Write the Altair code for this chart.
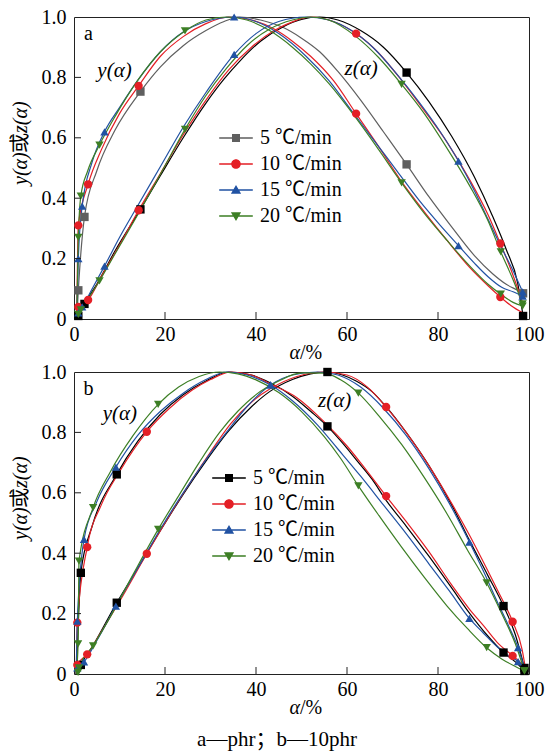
import altair as alt
import pandas as pd

SERIES = ["5 ℃/min", "10 ℃/min", "15 ℃/min", "20 ℃/min"]

RED, BLUE, GREEN, GREY, BLACK = "#e41f26", "#2152a3", "#3d7f25", "#5f5f5f", "#000000"
SERIF = "Liberation Serif"
CJK = "Liberation Serif, Noto Sans CJK SC"

# ---------------- panel a (phr) ----------------
A5_ALPHA = [0.6, 0.95, 2.3, 5, 9, 14.6, 19, 24, 29, 33, 36.5, 41, 46, 50, 54, 58, 63, 68, 73.1, 78, 83, 88, 92, 95, 97.5, 98.7]
A5_Y = [0.0, 0.095, 0.338, 0.49, 0.625, 0.753, 0.835, 0.905, 0.955, 0.985, 1.0, 0.99, 0.965, 0.93, 0.885, 0.82, 0.725, 0.62, 0.512, 0.405, 0.305, 0.21, 0.15, 0.115, 0.095, 0.085]
A5_Z = [0.0, 0.01, 0.05, 0.115, 0.225, 0.363, 0.475, 0.6, 0.715, 0.795, 0.855, 0.92, 0.968, 0.992, 1.0, 0.99, 0.955, 0.9, 0.816, 0.72, 0.605, 0.47, 0.34, 0.23, 0.12, 0.01]
A5_MARKS = [0.95, 2.3, 14.6, 73.1, 98.7]

A10_ALPHA = [0.6, 0.95, 3.1, 6, 10, 14.2, 19, 24, 29, 34, 39, 44, 48, 52, 57, 62, 67, 72, 77, 82, 87, 91, 93.7, 96, 98.7]
A10_Y = [0.0, 0.31, 0.446, 0.56, 0.68, 0.772, 0.87, 0.935, 0.978, 1.0, 0.99, 0.96, 0.92, 0.87, 0.79, 0.68, 0.57, 0.455, 0.355, 0.26, 0.17, 0.11, 0.073, 0.045, 0.02]
A10_Z = [0.0, 0.04, 0.063, 0.14, 0.245, 0.36, 0.482, 0.61, 0.725, 0.825, 0.9, 0.955, 0.984, 1.0, 0.985, 0.945, 0.88, 0.79, 0.69, 0.585, 0.46, 0.345, 0.25, 0.165, 0.05]
A10_MARKS = [0.95, 3.1, 14.2, 62, 93.7]

A15_ALPHA = [0.6, 0.95, 1.8, 4, 6.7, 10, 14, 19, 24, 29, 35.2, 40, 45, 51, 56, 61, 66, 71, 76, 80.5, 84.5, 88, 91, 94, 96.5, 98.6]
A15_Y = [0.0, 0.2, 0.374, 0.52, 0.62, 0.70, 0.79, 0.885, 0.95, 0.985, 1.0, 0.985, 0.945, 0.87, 0.79, 0.69, 0.59, 0.49, 0.39, 0.31, 0.243, 0.185, 0.14, 0.105, 0.09, 0.076]
A15_Z = [0.0, 0.02, 0.04, 0.10, 0.175, 0.27, 0.375, 0.505, 0.635, 0.75, 0.876, 0.945, 0.985, 1.0, 0.99, 0.955, 0.895, 0.81, 0.715, 0.62, 0.523, 0.425, 0.33, 0.235, 0.16, 0.09]
A15_MARKS = [0.95, 1.8, 6.7, 35.2, 84.5, 98.6]

A20_ALPHA = [0.6, 0.95, 1.5, 3, 5.6, 9, 14, 19, 24.4, 29, 33.5, 38, 43, 48, 52, 56, 62, 67, 72, 77, 82, 87, 91, 93.8, 96.5, 98.6]
A20_Y = [0.0, 0.27, 0.407, 0.49, 0.576, 0.67, 0.79, 0.885, 0.954, 0.99, 1.0, 0.99, 0.955, 0.9, 0.845, 0.78, 0.665, 0.56, 0.451, 0.35, 0.26, 0.175, 0.115, 0.082, 0.055, 0.043]
A20_Z = [0.0, 0.015, 0.03, 0.065, 0.126, 0.215, 0.345, 0.48, 0.628, 0.74, 0.83, 0.905, 0.96, 0.99, 1.0, 0.99, 0.935, 0.865, 0.777, 0.68, 0.565, 0.44, 0.325, 0.222, 0.13, 0.05]
A20_MARKS = [0.95, 1.5, 5.6, 24.4, 72, 93.8, 98.6]

# ---------------- panel b (10phr) ----------------
B5_ALPHA = [0.5, 0.9, 1.5, 4, 9.4, 14, 19, 24, 29, 34, 39, 43, 48, 52, 55.7, 59, 62, 65.5, 68.6, 73, 78, 83, 87, 91, 94.4, 97, 99]
B5_Y = [0.0, 0.15, 0.335, 0.49, 0.661, 0.77, 0.86, 0.925, 0.97, 1.0, 0.99, 0.965, 0.92, 0.87, 0.82, 0.765, 0.71, 0.645, 0.575, 0.49, 0.39, 0.285, 0.2, 0.125, 0.071, 0.04, 0.01]
B5_Z = [0.0, 0.01, 0.03, 0.09, 0.236, 0.35, 0.475, 0.595, 0.705, 0.805, 0.885, 0.935, 0.975, 0.994, 1.0, 0.99, 0.97, 0.935, 0.885, 0.8, 0.69, 0.56, 0.44, 0.325, 0.225, 0.13, 0.02]
B5_MARKS = [1.5, 9.4, 55.7, 94.4, 99]

B10_ALPHA = [0.5, 0.73, 2.9, 6, 10, 16, 21, 26, 30, 34.5, 39, 43.2, 49, 55, 60, 64.5, 68.6, 73, 78, 83, 86.9, 90, 93, 96.4, 98.5, 99.2]
B10_Y = [0.0, 0.17, 0.42, 0.56, 0.67, 0.802, 0.88, 0.94, 0.975, 1.0, 0.99, 0.96, 0.915, 0.835, 0.755, 0.67, 0.589, 0.505, 0.405, 0.295, 0.215, 0.16, 0.105, 0.06, 0.03, 0.01]
B10_Z = [0.0, 0.03, 0.065, 0.14, 0.24, 0.398, 0.525, 0.645, 0.735, 0.83, 0.9, 0.945, 0.985, 1.0, 0.99, 0.95, 0.884, 0.8, 0.69, 0.565, 0.46, 0.37, 0.28, 0.173, 0.08, 0.02]
B10_MARKS = [0.73, 2.9, 16, 68.6, 96.4]

B15_ALPHA = [0.5, 0.73, 2.2, 5, 9.2, 14, 19, 24, 29, 33.5, 38, 43.2, 48, 53.5, 58, 63, 68, 73, 78, 82.5, 86.9, 90, 93, 95.5, 97.6, 99]
B15_Y = [0.0, 0.175, 0.446, 0.57, 0.685, 0.79, 0.87, 0.93, 0.975, 1.0, 0.99, 0.957, 0.905, 0.825, 0.745, 0.655, 0.56, 0.465, 0.365, 0.275, 0.184, 0.135, 0.09, 0.06, 0.041, 0.015]
B15_Z = [0.0, 0.02, 0.04, 0.11, 0.225, 0.35, 0.48, 0.6, 0.71, 0.8, 0.885, 0.957, 0.99, 1.0, 0.99, 0.95, 0.88, 0.79, 0.68, 0.565, 0.437, 0.34, 0.24, 0.16, 0.087, 0.02]
B15_MARKS = [0.73, 2.2, 9.2, 43.2, 86.9, 97.6]

B20_ALPHA = [0.5, 0.9, 1.1, 4.2, 8, 13, 18.5, 23, 27.5, 32, 36, 40, 45, 50, 55, 58.5, 62.5, 67, 72, 77, 82, 86.5, 90.7, 94, 97, 99]
B20_Y = [0.0, 0.10, 0.374, 0.551, 0.67, 0.79, 0.893, 0.95, 0.985, 1.0, 0.994, 0.974, 0.932, 0.869, 0.786, 0.716, 0.623, 0.525, 0.42, 0.32, 0.225, 0.15, 0.087, 0.05, 0.025, 0.01]
B20_Z = [0.0, 0.005, 0.02, 0.093, 0.19, 0.33, 0.479, 0.59, 0.7, 0.8, 0.87, 0.925, 0.97, 0.997, 0.996, 0.975, 0.93, 0.855, 0.76, 0.65, 0.53, 0.41, 0.302, 0.2, 0.1, 0.01]
B20_MARKS = [0.9, 1.1, 4.2, 18.5, 62.5, 90.7, 99]

X_TICKS = [20, 40, 60, 80]
Y_TICKS = [0.2, 0.4, 0.6, 0.8]

W, H = 455, 302
FS = 20

# legend symbols: a short line with the series marker on it
BAR = "M-2.1,-0.085H2.1V0.085H-2.1Z"
LEGEND_PATHS = [
    BAR + "M-0.5,-0.5H0.5V0.5H-0.5Z",
    BAR + "M-0.6,0A0.6,0.6,0,1,1,0.6,0A0.6,0.6,0,1,1,-0.6,0Z",
    BAR + "M0,-0.62L0.64,0.46L-0.64,0.46Z",
    BAR + "M0,0.62L-0.64,-0.46L0.64,-0.46Z",
]

X_AX = alt.Axis(values=[0, 20, 40, 60, 80, 100], title=None, ticks=False, domain=False, grid=False,
                labelFont=SERIF, labelFontSize=FS, labelColor="#000", labelPadding=5, labelFlush=False)
Y_AX = alt.Axis(values=[0, 0.2, 0.4, 0.6, 0.8, 1.0], title=None, ticks=False, domain=False, grid=False,
                labelFont=SERIF, labelFontSize=FS, labelColor="#000", labelPadding=8, labelFlush=False,
                labelExpr="datum.value == 0 ? '0' : format(datum.value, '.1f')")
X_SC = alt.Scale(domain=[0, 100], nice=False)
Y_SC = alt.Scale(domain=[0, 1], nice=False)

ONE = pd.DataFrame({"k": [0]})


def build_rows(curves):
    rows = []
    for name, alpha, yv, zv, marks, ycol, zcol, shape in curves:
        for a, y, z in zip(alpha, yv, zv):
            m = a in marks
            rows.append(dict(alpha=a, val=y, curve=name + " y", color=ycol, shape=shape, mark=m))
            rows.append(dict(alpha=a, val=z, curve=name + " z", color=zcol, shape=shape, mark=m))
    return pd.DataFrame(rows)


def label(text, **kw):
    style = dict(font=SERIF, fontSize=FS, color="#000")
    style.update(kw)
    return alt.Chart(ONE).mark_text(text=text, **style)


def panel(curves, legend_colors, letter, lx, ly, notes):
    df = build_rows(curves)
    base = alt.Chart(df)
    lines = base.mark_line(interpolate="monotone", strokeWidth=1.2).encode(
        x=alt.X("alpha:Q", scale=X_SC, axis=X_AX),
        y=alt.Y("val:Q", scale=Y_SC, axis=Y_AX),
        detail="curve:N",
        order="alpha:Q",
        color=alt.Color("color:N", scale=None),
    )
    points = base.transform_filter("datum.mark").mark_point(filled=True, size=70, opacity=1).encode(
        x=alt.X("alpha:Q", scale=X_SC, axis=X_AX),
        y=alt.Y("val:Q", scale=Y_SC, axis=Y_AX),
        shape=alt.Shape("shape:N", scale=None),
        color=alt.Color("color:N", scale=None),
    )
    leg = alt.Legend(orient="none", legendX=lx, legendY=ly, title=None, padding=0,
                     labelFont=CJK, labelFontSize=FS, labelColor="#000", labelOffset=14,
                     symbolSize=256, symbolStrokeWidth=0, symbolOpacity=1, rowPadding=6)
    legend_layer = alt.Chart(pd.DataFrame({"series": SERIES})).transform_filter("false").mark_point(
        filled=True, opacity=1).encode(
        color=alt.Color("series:N", scale=alt.Scale(domain=SERIES, range=legend_colors), legend=leg),
        shape=alt.Shape("series:N", scale=alt.Scale(domain=SERIES, range=LEGEND_PATHS), legend=leg),
    )
    xt = alt.Chart(pd.DataFrame({"alpha": X_TICKS})).mark_rule(color="#222", strokeWidth=1).encode(
        x=alt.X("alpha:Q", scale=X_SC, axis=X_AX), y=alt.value(H), y2=alt.value(H - 7))
    yt = alt.Chart(pd.DataFrame({"val": Y_TICKS})).mark_rule(color="#222", strokeWidth=1).encode(
        y=alt.Y("val:Q", scale=Y_SC, axis=Y_AX), x=alt.value(0), x2=alt.value(7))

    (ya, yb), (za, zb) = notes
    texts = [
        label(letter).encode(x=alt.datum(3.2), y=alt.datum(0.945)),
        label("y(α)", fontStyle="italic", fontSize=21).encode(x=alt.datum(ya), y=alt.datum(yb)),
        label("z(α)", fontStyle="italic", fontSize=21).encode(x=alt.datum(za), y=alt.datum(zb)),
        # axis titles
        label("α", fontStyle="italic", align="right", baseline="middle").encode(x=alt.value(226), y=alt.value(H + 34)),
        label("/%", align="left", baseline="middle").encode(x=alt.value(226), y=alt.value(H + 34)),
        label("y(α)", fontStyle="italic", angle=270, align="left", baseline="middle").encode(x=alt.value(-53), y=alt.value(168)),
        label("或", font=CJK, angle=270, align="left", baseline="middle").encode(x=alt.value(-53), y=alt.value(136)),
        label("z(α)", fontStyle="italic", angle=270, align="left", baseline="middle").encode(x=alt.value(-53), y=alt.value(116)),
    ]
    return alt.layer(lines, points, legend_layer, xt, yt, *texts).properties(width=W, height=H)


CURVES_A = [
    (SERIES[0], A5_ALPHA, A5_Y, A5_Z, A5_MARKS, GREY, BLACK, "square"),
    (SERIES[1], A10_ALPHA, A10_Y, A10_Z, A10_MARKS, RED, RED, "circle"),
    (SERIES[2], A15_ALPHA, A15_Y, A15_Z, A15_MARKS, BLUE, BLUE, "triangle-up"),
    (SERIES[3], A20_ALPHA, A20_Y, A20_Z, A20_MARKS, GREEN, GREEN, "triangle-down"),
]
CURVES_B = [
    (SERIES[0], B5_ALPHA, B5_Y, B5_Z, B5_MARKS, BLACK, BLACK, "square"),
    (SERIES[1], B10_ALPHA, B10_Y, B10_Z, B10_MARKS, RED, RED, "circle"),
    (SERIES[2], B15_ALPHA, B15_Y, B15_Z, B15_MARKS, BLUE, BLUE, "triangle-up"),
    (SERIES[3], B20_ALPHA, B20_Y, B20_Z, B20_MARKS, GREEN, GREEN, "triangle-down"),
]

top = panel(CURVES_A, [GREY, RED, BLUE, GREEN], "a", 152, 111, ((8.9, 0.821), (63.1, 0.828)))
bottom = panel(CURVES_B, [BLACK, RED, BLUE, GREEN], "b", 145, 96, ((10.1, 0.861), (57.3, 0.904)))
bottom = alt.layer(
    bottom,
    label("a—phr；b—10phr", font=CJK, fontSize=21, align="center", baseline="middle").encode(
        x=alt.value(203), y=alt.value(368)),
)

chart = alt.vconcat(top, bottom, spacing=53, bounds="flush").resolve_scale(
    color="independent", shape="independent"
).configure_view(stroke="#222", strokeWidth=1).properties(
    padding={"left": 10, "top": 6, "right": 0, "bottom": 0}, background="white"
)

chart.save("out.html", embed_options={"renderer": "svg", "actions": False})
